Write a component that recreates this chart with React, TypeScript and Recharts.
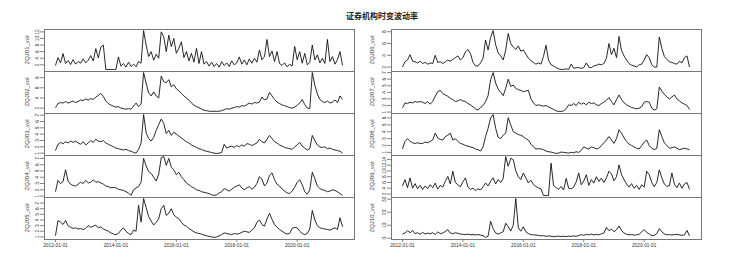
import React from "react";
import { LineChart, Line, XAxis, YAxis } from "recharts";

// monthly volatility, 2012-01 .. 2021-07
const START_YEAR = 2012;
const X_TICKS = [2012, 2014, 2016, 2018, 2020];

const zqj01 = [
  1.8, 4.2, 2.6, 5.4, 2.4, 3.3, 2.1, 3.6, 2.2, 3.0, 2.5, 3.8,
  2.6, 3.4, 4.8, 3.2, 6.9, 4.1, 7.4, 8.0, 0.6, 0.6, 0.6, 0.6,
  0.6, 4.4, 1.6, 2.4, 1.3, 2.8, 1.5, 2.2, 1.4, 3.0, 2.5, 12.4,
  8.0, 4.5, 6.0, 3.4, 5.2, 4.0, 12.0, 10.5, 6.0, 11.0, 7.5, 10.0,
  5.5, 7.0, 9.0, 4.2, 6.0, 3.2, 5.5, 2.8, 7.0, 2.4, 6.0, 2.2,
  3.0, 1.6, 2.8, 1.5, 2.4, 1.3, 3.0, 1.8, 2.6, 1.5, 3.2, 2.0,
  2.6, 4.4, 2.2, 3.5, 2.0, 3.8, 2.5, 4.0, 2.8, 6.5, 3.5, 4.5,
  9.7, 4.5, 6.2, 3.0, 6.0, 2.4, 1.8, 2.6, 1.4, 2.2, 1.6, 7.6,
  3.5, 6.0, 2.5, 5.5, 2.0, 2.8, 8.0, 3.5, 5.0, 2.6, 4.0, 2.4,
  9.7, 3.0, 4.5, 2.2, 3.6, 6.0, 1.8,
];

const zqj02 = [
  2.1, 2.9, 3.1, 3.0, 3.3, 3.0, 3.2, 3.4, 3.1, 3.3, 3.6, 3.5,
  3.8, 3.6, 3.9, 3.7, 4.2, 4.5, 4.9, 4.3, 3.4, 2.9, 2.6, 2.4,
  2.2, 2.3, 2.0, 1.9, 1.8, 1.9, 1.8, 2.4, 3.0, 2.3, 2.8, 9.0,
  6.9, 5.0, 4.4, 5.2, 4.4, 4.0, 8.3, 7.2, 7.0, 7.6, 6.2, 6.6,
  5.8, 5.4, 4.9, 4.4, 4.0, 3.6, 3.0, 2.6, 2.3, 2.1, 1.8, 1.6,
  1.5, 1.4, 1.35, 1.4, 1.35, 1.4, 1.5, 1.7, 1.9, 1.8, 2.0, 2.1,
  2.3, 2.2, 2.5, 2.4, 2.7, 3.0, 2.8, 3.1, 3.0, 3.2, 4.2, 3.6,
  3.8, 5.1, 4.4, 3.7, 3.2, 2.9, 2.6, 2.5, 2.3, 2.1, 2.0, 2.2,
  2.6, 3.0, 3.7, 2.7, 2.0, 1.9, 9.0, 6.5, 4.8, 3.7, 3.3, 3.1,
  3.4, 3.0, 3.2, 3.6, 3.1, 4.4, 3.7,
];

const zqj03 = [
  1.4, 2.4, 2.7, 2.5, 2.8, 2.6, 2.9, 2.7, 2.9, 2.6, 2.4, 2.8,
  2.3, 2.6, 3.0, 2.7, 3.2, 2.9, 2.8, 3.0, 2.6, 2.4, 2.2, 2.0,
  1.8, 1.7, 1.6, 1.5, 1.6, 1.4, 1.3, 1.1, 1.0, 1.6, 2.6, 7.1,
  4.2, 3.3, 2.9, 3.5, 4.6, 5.5, 6.4, 5.7, 4.1, 4.6, 3.8, 4.3,
  4.0, 3.7, 3.4, 3.1, 2.8, 2.6, 2.3, 2.1, 1.9, 1.7, 1.6, 1.4,
  1.3, 1.2, 1.1, 1.0, 0.95, 1.0, 1.1, 2.4, 1.8, 2.0, 2.1, 1.9,
  2.2, 2.0, 2.3, 2.1, 2.5, 2.4, 2.2, 2.4, 2.6, 3.2, 2.8, 2.6,
  3.2, 3.8, 3.3, 2.8, 2.6, 2.3, 2.1, 1.9, 1.8, 1.7, 1.6, 2.0,
  2.3, 2.7, 2.1, 1.8, 1.5, 1.7, 3.8, 3.0, 2.3, 2.0, 1.9, 2.0,
  1.7, 1.8, 1.6, 1.5, 1.4, 1.3, 1.0,
];

const zqj04 = [
  1.7, 3.5, 3.0, 3.3, 5.2, 3.4, 2.9, 2.7, 2.6, 2.9, 3.2, 3.0,
  3.5, 3.1, 3.2, 3.6, 3.2, 3.3, 3.1, 2.9, 2.6, 2.5, 2.3, 2.4,
  2.3, 2.1, 2.0, 1.9, 1.7, 1.5, 1.1, 2.0, 2.3, 2.5, 3.2, 7.0,
  5.8, 4.9, 4.6, 4.0, 3.4, 4.5, 7.1, 7.3, 5.9, 7.0, 5.6, 5.2,
  4.4, 4.8, 4.1, 3.6, 3.1, 2.8, 2.5, 2.3, 2.0, 1.9, 1.7, 1.6,
  1.5, 1.4, 1.2, 1.1, 1.2, 1.5, 1.7, 2.2, 2.0, 1.8, 2.1, 2.4,
  2.6, 2.8, 2.3, 2.0, 2.3, 2.5, 2.1, 2.4, 3.0, 4.1, 3.7, 2.6,
  3.1, 4.3, 4.7, 3.6, 2.9, 2.6, 2.1, 1.8, 1.5, 1.4, 1.8, 2.4,
  3.2, 3.6, 2.8, 1.7, 1.3, 2.0, 4.8, 3.8, 2.6, 2.2, 2.0, 1.9,
  1.7, 1.8, 2.0, 1.9, 1.7, 1.4, 1.1,
];

const zqj05 = [
  1.2, 3.9, 3.6, 3.2, 3.9, 3.0, 2.7, 2.5, 2.6, 2.4, 2.5, 2.3,
  2.5, 3.0, 2.7, 2.9, 3.1, 2.6, 2.8, 2.4, 2.2, 2.0, 1.7, 1.5,
  1.4, 1.6, 2.2, 2.6, 2.0, 1.6, 1.4, 2.2, 2.0, 6.6, 3.6, 7.8,
  6.2, 4.6, 3.8, 3.1, 3.6, 4.2, 6.0, 6.6, 4.8, 5.2, 6.0, 4.9,
  4.5, 4.2, 3.6, 3.1, 2.9, 2.5, 2.2, 1.9, 1.7, 1.6, 1.5, 1.3,
  1.2, 1.1, 1.0, 0.9, 1.0, 1.2, 1.4, 1.7, 1.6, 1.5, 1.4, 1.6,
  1.5, 1.6, 1.8, 2.0, 1.9, 1.8, 2.2, 2.6, 3.6, 4.0, 3.2, 2.9,
  4.2, 5.2, 4.1, 3.2, 2.7, 2.3, 2.0, 1.7, 1.5, 1.6, 2.5, 2.7,
  2.6, 2.0, 1.6, 1.4, 1.6, 2.4, 5.7, 4.0, 3.0, 2.6, 2.5, 2.4,
  2.3, 2.2, 2.4, 2.6, 2.3, 4.4, 2.8,
];

const zqj06 = [
  2.0, 2.9, 3.2, 4.1, 3.0, 2.9, 2.7, 3.0, 2.6, 2.8, 2.5, 2.7,
  2.6, 4.0, 2.8, 2.9, 2.6, 2.9, 3.2, 3.0, 3.3, 3.6, 3.9, 3.2,
  3.6, 4.6, 5.0, 4.3, 2.8, 2.2, 2.2, 2.7, 3.5, 6.6, 4.9, 7.0,
  8.2, 5.8, 4.4, 3.9, 3.2, 4.9, 7.7, 6.0, 5.4, 5.0, 5.6, 4.7,
  4.9, 4.2, 3.5, 3.1, 2.8, 2.5, 2.7, 2.5, 3.8, 5.7, 3.2, 2.4,
  2.2, 1.9, 1.7, 1.6, 1.6, 1.7, 1.6, 2.5, 1.8, 1.9, 1.9, 1.8,
  1.9, 2.7, 2.0, 1.9, 2.2, 2.3, 2.5, 2.4, 2.6, 3.5, 6.0, 4.1,
  5.2, 3.6, 7.2, 4.8, 3.9, 3.2, 2.6, 2.3, 2.2, 2.0, 2.4, 2.5,
  3.2, 4.1, 3.6, 2.4, 2.0, 2.0, 7.1, 5.2, 3.8, 3.3, 2.9, 2.8,
  2.6, 2.5, 3.0, 2.7, 3.6, 3.9, 2.0,
];

const zqj07 = [
  1.65, 2.4, 2.3, 2.5, 2.4, 2.6, 2.5, 2.6, 2.5, 2.3, 2.6, 2.2,
  2.6, 3.4, 4.1, 4.3, 3.8, 3.6, 3.4, 3.1, 2.9, 2.6, 2.7, 2.9,
  2.7, 2.6, 2.3, 2.1, 1.8, 1.5, 1.3, 1.7, 2.0, 2.6, 3.5, 5.9,
  7.0, 5.4, 4.5, 4.0, 3.5, 4.6, 6.0, 4.9, 5.1, 4.6, 4.4, 4.3,
  4.1, 4.2, 4.3, 3.0, 2.4, 2.0, 2.1, 2.0, 1.9, 2.0, 1.8, 1.6,
  1.4, 1.2, 1.1, 1.1, 1.2, 1.5, 2.1, 2.0, 2.3, 2.0, 2.5, 2.2,
  2.4, 2.1, 2.5, 2.3, 2.4, 2.1, 2.0, 2.3, 2.5, 2.8, 3.2, 2.6,
  2.1, 2.9, 3.6, 2.9, 2.4, 2.1, 1.9, 1.7, 1.6, 1.5, 1.6, 1.8,
  2.5, 2.6, 2.5, 1.6, 1.3, 1.5, 4.8, 4.2, 3.7, 3.3, 3.0, 3.3,
  3.6, 3.0, 2.7, 2.4, 2.2, 2.0, 1.4,
];

const zqj08 = [
  1.5, 2.6, 3.0, 2.6, 2.4, 2.3, 2.4, 2.3, 2.3, 2.5, 2.4, 2.6,
  2.8, 3.8, 3.1, 2.9, 2.8, 3.3, 3.5, 3.8, 2.8, 3.0, 2.6, 2.3,
  2.2, 2.0, 1.9, 1.8, 1.7, 1.5, 1.4, 1.2, 1.8, 3.3, 4.5, 6.0,
  6.5, 4.5, 3.2, 3.0, 3.5, 3.8, 6.05, 5.0, 4.0, 3.8, 3.6, 3.5,
  3.3, 3.0, 2.8, 2.2, 1.8, 1.5, 1.55, 1.5, 1.4, 1.2, 1.1, 1.05,
  0.95, 0.85, 0.9, 1.05, 1.0, 0.95, 0.9, 1.0, 0.95, 1.1, 1.0, 1.3,
  1.8, 1.6, 1.5, 1.8, 1.7, 1.5, 1.6, 2.0, 2.4, 2.8, 3.3, 2.8,
  2.3, 3.0, 4.3, 3.8, 3.1, 2.6, 2.2, 2.0, 1.8, 1.6, 1.5, 2.0,
  2.5, 2.8, 2.0, 1.6, 1.4, 1.6, 4.3, 3.3, 2.4, 2.0, 1.6, 1.7,
  1.8, 1.6, 1.4, 1.5, 1.6, 1.5, 1.4,
];

const zqj09 = [
  4.8, 7.0, 4.2, 7.6, 4.0, 5.6, 3.8, 5.0, 3.6, 4.8, 3.9, 5.2,
  4.2, 5.8, 3.7, 5.0, 4.4, 6.4, 8.1, 5.5, 9.9, 6.0, 5.2, 4.5,
  6.2, 7.6, 4.4, 3.6, 4.0, 3.2, 3.8, 3.4, 4.5, 5.8, 4.8, 6.4,
  7.6, 5.5, 7.0, 6.0, 7.4, 15.0, 11.6, 14.4, 13.9, 10.0, 8.0, 7.0,
  9.3, 7.6, 5.8, 6.8, 5.3, 4.6, 4.1, 3.8, 1.5, 1.5, 1.5, 12.7,
  5.0, 4.2, 3.6, 4.6, 3.4, 7.4, 4.0, 3.8, 4.4, 6.2, 9.3, 5.2,
  6.5, 8.7, 5.0, 7.0, 5.8, 8.0, 6.4, 7.5, 6.0, 7.6, 9.9, 9.0,
  6.6, 8.0, 12.1, 8.7, 7.0, 5.5, 4.4, 5.6, 4.0, 5.0, 3.6, 5.2,
  4.4, 9.9, 8.7, 6.0, 4.5, 6.0, 10.4, 7.6, 5.5, 4.6, 5.0, 9.3,
  5.4, 4.2, 5.8, 4.0, 5.5, 6.0, 3.6,
];

const zqj10 = [
  3.3, 4.0, 5.8, 4.2, 6.0, 3.5, 4.2, 3.0, 4.5, 3.2, 4.0, 3.4,
  4.2, 3.0, 4.8, 3.5, 4.0, 5.2, 6.6, 4.0, 3.5, 4.2, 3.8, 3.2,
  3.0, 2.8, 3.2, 2.6, 2.9, 2.5, 2.8, 2.4, 2.0, 0.6, 1.5, 13.0,
  7.4, 4.0, 3.2, 4.2, 5.0, 11.5, 8.8, 5.5, 10.0, 30.5, 8.0, 5.4,
  8.8, 5.0, 3.6, 2.8, 2.6, 2.4, 2.2, 1.8, 2.0, 1.4, 1.8, 1.5,
  1.2, 1.4, 1.6, 1.3, 1.5, 1.2, 1.6, 1.4, 1.8, 1.5, 2.0, 2.8,
  2.2, 3.0, 2.6, 3.2, 2.5, 3.0, 2.6, 3.4, 4.0, 8.3, 5.8, 7.0,
  5.0, 6.5, 9.4, 6.0, 4.0, 3.0, 2.6, 2.8, 2.4, 2.6, 3.0, 4.8,
  6.6, 4.5, 3.2, 2.0, 2.2, 3.5, 7.4, 5.0, 3.4, 2.6, 2.8, 2.5,
  2.8, 3.0, 2.5, 2.2, 2.6, 6.0, 1.8,
];

const leftPanels = [
  { name: "ZQJ01_vol", values: zqj01, ticks: [2, 4, 6, 8, 10, 12] },
  { name: "ZQJ02_vol", values: zqj02, ticks: [2, 4, 6, 8] },
  { name: "ZQJ03_vol", values: zqj03, ticks: [1, 2, 3, 4, 5, 6, 7] },
  { name: "ZQJ04_vol", values: zqj04, ticks: [1, 2, 3, 4, 5, 6, 7] },
  { name: "ZQJ05_vol", values: zqj05, ticks: [1, 2, 3, 4, 5, 6, 7] },
];

const rightPanels = [
  { name: "ZQJ06_vol", values: zqj06, ticks: [2, 4, 6, 8] },
  { name: "ZQJ07_vol", values: zqj07, ticks: [1, 2, 3, 4, 5, 6, 7] },
  { name: "ZQJ08_vol", values: zqj08, ticks: [1, 2, 3, 4, 5, 6] },
  { name: "ZQJ09_vol", values: zqj09, ticks: [2, 4, 6, 8, 10, 12, 14] },
  { name: "ZQJ10_vol", values: zqj10, ticks: [0, 10, 20, 30] },
];

const FONT = "'Liberation Sans', Arial, sans-serif";
const PANEL_TOPS = [29, 71, 113, 155, 197];
const PANEL_H = 42;
const AXIS_W = 44;
const PLOT_W = 310;

// R-style 4% padding around the data range
function padded(lo: number, hi: number): [number, number] {
  const p = (hi - lo) * 0.04;
  return [lo - p, hi + p];
}

function XTick(props: any) {
  const { x, y, payload } = props;
  return (
    <text x={x} y={y} dy={4} textAnchor="middle" fontSize={4.8} fill="#333" fontFamily={FONT}>
      {`${payload.value}-01-01`}
    </text>
  );
}

function YTick(props: any) {
  const { x, y, payload } = props;
  return (
    <text
      x={x}
      y={y}
      transform={`rotate(-90 ${x} ${y})`}
      textAnchor="middle"
      fontSize={4.8}
      fill="#333"
      fontFamily={FONT}
    >
      {payload.value}
    </text>
  );
}

function Panel({
  name,
  values,
  ticks,
  left,
  top,
  showX,
  labelGap,
}: {
  name: string;
  values: number[];
  ticks: number[];
  left: number;
  top: number;
  showX: boolean;
  labelGap: number;
}) {
  const data = values.map((v, i) => ({ t: START_YEAR + i / 12, v }));
  const xDomain = padded(data[0].t, data[data.length - 1].t);
  const yDomain = padded(Math.min(...values), Math.max(...values));

  return (
    <div style={{ position: "absolute", left, top }}>
      <LineChart
        width={AXIS_W + PLOT_W}
        height={showX ? PANEL_H + 20 : PANEL_H}
        data={data}
        margin={{ top: 0, right: 0, bottom: 0, left: 0 }}
      >
        <XAxis
          type="number"
          dataKey="t"
          domain={xDomain}
          ticks={X_TICKS}
          interval={0}
          hide={!showX}
          height={20}
          axisLine={false}
          tickSize={3}
          tickMargin={1}
          tickLine={{ stroke: "#666", strokeWidth: 0.8 }}
          tick={XTick}
        />
        <YAxis
          type="number"
          domain={yDomain}
          ticks={ticks}
          interval={0}
          width={AXIS_W}
          axisLine={false}
          tickSize={4}
          tickMargin={1}
          tickLine={{ stroke: "#666", strokeWidth: 0.8 }}
          tick={YTick}
        />
        <Line
          dataKey="v"
          stroke="#111"
          strokeWidth={0.9}
          dot={false}
          isAnimationActive={false}
        />
      </LineChart>
      <div
        style={{
          position: "absolute",
          left: AXIS_W,
          top: 0,
          width: PLOT_W + 1,
          height: PANEL_H + 1,
          border: "1px solid #777",
          boxSizing: "border-box",
          pointerEvents: "none",
        }}
      />
      <svg
        width={AXIS_W}
        height={PANEL_H}
        style={{ position: "absolute", left: 0, top: 0, pointerEvents: "none" }}
      >
        <text
          x={AXIS_W - labelGap}
          y={PANEL_H / 2}
          transform={`rotate(-90 ${AXIS_W - labelGap} ${PANEL_H / 2})`}
          textAnchor="middle"
          fontSize={6}
          fill="#333"
          fontFamily={FONT}
        >
          {name}
        </text>
      </svg>
    </div>
  );
}

export default function App() {
  return (
    <div
      style={{
        position: "absolute",
        left: 0,
        top: 0,
        width: 743,
        height: 268,
        background: "#fff",
        overflow: "hidden",
      }}
    >
      <div
        style={{
          position: "absolute",
          left: 382,
          top: 11,
          transform: "translateX(-50%)",
          fontFamily: "'Noto Sans CJK SC', sans-serif",
          fontWeight: 700,
          fontSize: 8,
          lineHeight: "9px",
          color: "#222",
          whiteSpace: "nowrap",
        }}
      >
        证券机构时变波动率
      </div>
      {leftPanels.map((p, i) => (
        <Panel
          key={p.name}
          {...p}
          left={0}
          top={PANEL_TOPS[i]}
          showX={i === leftPanels.length - 1}
          labelGap={15}
        />
      ))}
      {rightPanels.map((p, i) => (
        <Panel
          key={p.name}
          {...p}
          left={347}
          top={PANEL_TOPS[i]}
          showX={i === rightPanels.length - 1}
          labelGap={17}
        />
      ))}
    </div>
  );
}
